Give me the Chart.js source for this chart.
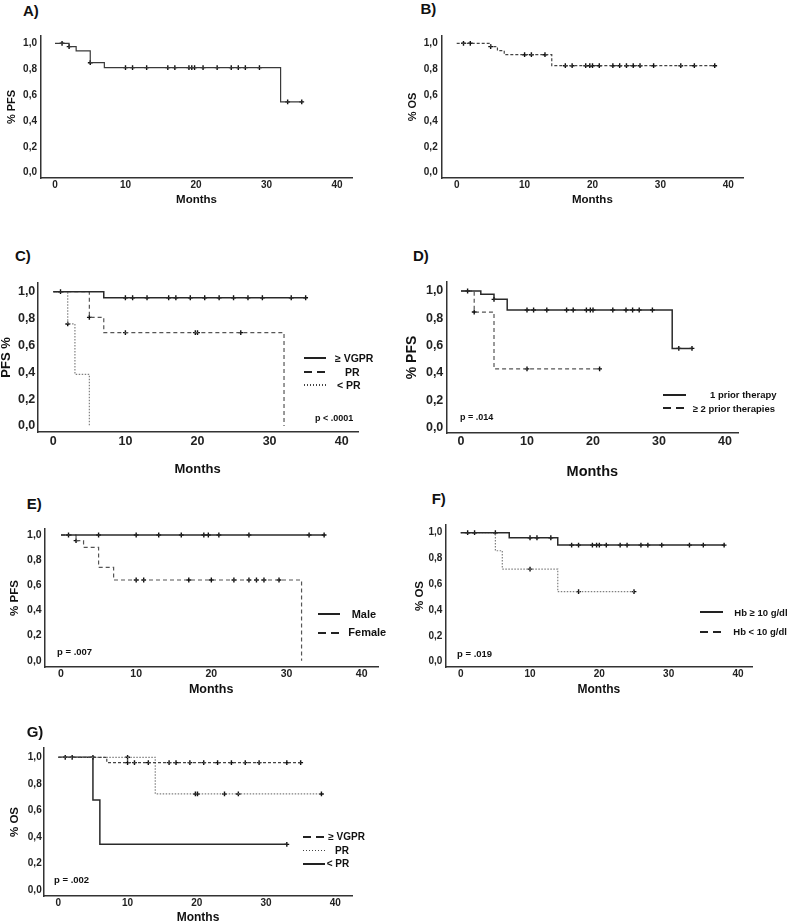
<!DOCTYPE html>
<html>
<head>
<meta charset="utf-8">
<script src="https://cdn.jsdelivr.net/npm/chart.js@4.4.1/dist/chart.umd.min.js"></script>
<style>
  body { margin: 0; width: 796px; height: 924px; position: relative; overflow: hidden; background: #fff;
         font-family: "Liberation Sans", Arial, sans-serif; font-weight: bold; color: #111; }
  canvas { position: absolute; }
  .t { position: absolute; white-space: nowrap; line-height: 1; }
  .k { position: absolute; }
</style>
</head>
<body>
<script>
// ---- shared ticks ----
const xTicks = [0, 10, 20, 30, 40];
const yTicks = [0, 0.2, 0.4, 0.6, 0.8, 1.0];
const yTickLabels = ['0,0', '0,2', '0,4', '0,6', '0,8', '1,0'];

// ---- A) PFS, all patients ----
const aTime = [0, 2, 3, 5, 7, 32, 35];
const aSurv = [1, 0.974, 0.942, 0.85, 0.812, 0.547, 0.547];
const aCens = [1, 2, 5, 10, 11, 13, 16, 17, 19, 19.4, 19.8, 21, 23, 25, 26, 27, 29, 33, 35];

// ---- B) OS, all patients ----
const bTime = [0, 5, 6, 7, 14, 38];
const bSurv = [1, 0.974, 0.943, 0.912, 0.827, 0.827];
const bCens = [1, 2, 5, 10, 11, 13, 16, 17, 19, 19.6, 20, 21, 23, 24, 25, 26, 27, 29, 33, 35, 38];

// ---- C) PFS by response ----
const cVgprTime = [0, 7, 35];
const cVgprSurv = [1, 0.955, 0.955];
const cVgprCens = [1, 10, 11, 13, 16, 17, 19, 21, 23, 25, 27, 29, 33, 35];
const cPrTime = [0, 5, 7, 32];
const cPrSurv = [1, 0.809, 0.695, 0];
const cPrCens = [5, 10, 19.7, 20, 26];
const cLtTime = [0, 2, 3, 5];
const cLtSurv = [1, 0.76, 0.385, 0];
const cLtCens = [2];

// ---- D) PFS by prior therapies ----
const dOneTime = [0, 3, 5, 7, 32, 35];
const dOneSurv = [1, 0.976, 0.939, 0.861, 0.58, 0.58];
const dOneCens = [1, 5, 10, 11, 13, 16, 17, 19, 19.6, 20, 23, 25, 26, 27, 29, 33, 35];
const dTwoTime = [0, 2, 5, 21];
const dTwoSurv = [1, 0.846, 0.43, 0.43];
const dTwoCens = [2, 10, 21];

// ---- E) PFS by sex ----
const eMaleTime = [0, 35];
const eMaleSurv = [1, 1];
const eMaleCens = [1, 5, 10, 13, 16, 19, 19.6, 21, 25, 33, 35];
const eFemTime = [0, 2, 3, 5, 7, 32];
const eFemSurv = [1, 0.955, 0.902, 0.743, 0.642, 0];
const eFemCens = [2, 10, 11, 17, 20, 23, 25, 26, 27, 29];

// ---- F) OS by haemoglobin ----
const fHiTime = [0, 7, 14, 38];
const fHiSurv = [1, 0.961, 0.904, 0.904];
const fHiCens = [1, 2, 5, 10, 11, 13, 16, 17, 19, 19.6, 20, 21, 23, 24, 26, 27, 29, 33, 35, 38];
const fLoTime = [0, 5, 6, 14, 25];
const fLoSurv = [1, 0.86, 0.718, 0.543, 0.543];
const fLoCens = [10, 17, 25];

// ---- G) OS by response ----
const gVgprTime = [0, 7, 35];
const gVgprSurv = [1, 0.96, 0.96];
const gVgprCens = [1, 2, 5, 10, 11, 13, 16, 17, 19, 21, 23, 25, 27, 29, 33, 35];
const gPrTime = [0, 14, 38];
const gPrSurv = [1, 0.724, 0.724];
const gPrCens = [10, 19.8, 20.1, 24, 26, 38];
const gLtTime = [0, 5, 6, 33];
const gLtSurv = [1, 0.678, 0.344, 0.344];
const gLtCens = [33];

// line styles
const SOLID = { color: '#2a2a2a', width: 1.5, dash: [] };
const SOLID_THIN = { color: '#3a3a3a', width: 1.2, dash: [] };
const DASH = { color: '#555', width: 1.2, dash: [4, 3] };
const FINE_DASH = { color: '#444', width: 1.2, dash: [3, 2] };
const DOT = { color: '#808080', width: 1.2, dash: [1.5, 1.5] };

function survAt(times, surv, t) {
  let v = surv[0];
  for (let i = 0; i < times.length; i++) if (times[i] <= t) v = surv[i];
  return v;
}

function addText(txt, left, cy, size) {
  const d = document.createElement('div');
  d.className = 't';
  d.textContent = txt;
  d.style.left = left + 'px';
  d.style.top = (cy - size / 2) + 'px';
  d.style.fontSize = size + 'px';
  document.body.appendChild(d);
}

function addKey(x1, x2, cy, kind) {
  const d = document.createElement('div');
  d.className = 'k';
  const h = kind === 'dot' ? 1.5 : 2;
  d.style.left = x1 + 'px';
  d.style.width = (x2 - x1) + 'px';
  d.style.top = (cy - h / 2) + 'px';
  d.style.height = h + 'px';
  if (kind === 'solid') d.style.background = '#222';
  else if (kind === 'dash') d.style.background = 'repeating-linear-gradient(to right,#222 0 8px,transparent 8px 13px)';
  else d.style.background = 'repeating-linear-gradient(to right,#444 0 1.5px,transparent 1.5px 3px)';
  document.body.appendChild(d);
}

function makePanel(p) {
  const a = p.area;
  const top = a.t - 12;
  const bottom = p.monthsY + p.xTitleSize / 2 + 2;
  const cv = document.createElement('canvas');
  cv.width = Math.round(a.r + 10 - p.cl);
  cv.height = Math.round(bottom - top);
  cv.style.left = p.cl + 'px';
  cv.style.top = top + 'px';
  document.body.appendChild(cv);

  const xPer = (p.x40 - p.x0) / 40;
  const yPer = p.y0 - p.y1;
  const yw = a.l - p.cl;
  const xh = cv.height - (a.b - top);

  const datasets = [];
  p.curves.forEach(c => {
    datasets.push({
      data: c.time.map((t, i) => ({ x: t, y: c.surv[i] })),
      stepped: true, fill: false, pointRadius: 0,
      borderColor: c.style.color, borderWidth: c.style.width, borderDash: c.style.dash
    });
  });
  p.curves.forEach(c => {
    datasets.push({
      data: c.cens.map(t => ({ x: t, y: survAt(c.time, c.surv, t) })),
      showLine: false, pointStyle: 'cross', pointRadius: 2.4, pointBorderWidth: 1.4,
      pointBorderColor: '#111', borderColor: '#111'
    });
  });

  const tickFont = { family: '"Liberation Sans", Arial, sans-serif', weight: 'bold', size: p.tickSize };
  new Chart(cv, {
    type: 'line',
    data: { datasets },
    options: {
      responsive: false, animation: false,
      layout: { padding: { left: 0, top: 12, right: 10, bottom: 0 } },
      plugins: { legend: { display: false }, tooltip: { enabled: false } },
      scales: {
        x: {
          type: 'linear',
          min: (a.l - p.x0) / xPer, max: (a.r - p.x0) / xPer,
          afterBuildTicks: s => { s.ticks = xTicks.map(v => ({ value: v })); },
          afterFit: s => { s.height = xh; },
          grid: { display: false, drawTicks: false },
          border: { display: true, color: '#333', width: 1.5 },
          ticks: { color: '#222', font: tickFont, padding: p.xTickCy - a.b - 0.6 * p.tickSize, maxRotation: 0 },
          title: { display: true, text: 'Months', color: '#111',
                   font: { family: tickFont.family, weight: 'bold', size: p.xTitleSize, lineHeight: 1 },
                   padding: { top: 0, bottom: 2 } }
        },
        y: {
          type: 'linear',
          min: (p.y0 - a.b) / yPer, max: (p.y0 - a.t) / yPer,
          afterBuildTicks: s => { s.ticks = yTicks.map(v => ({ value: v })); },
          afterFit: s => { s.width = yw; },
          grid: { display: false, drawTicks: false },
          border: { display: true, color: '#333', width: 1.5 },
          ticks: { color: '#222', font: tickFont, padding: p.yTickPad, callback: (v, i) => yTickLabels[i] },
          title: { display: true, text: p.yTitle, color: '#111',
                   font: { family: tickFont.family, weight: 'bold', size: p.yTitleSize, lineHeight: 1 },
                   padding: { top: Math.max(0, p.yTitleX - p.cl - p.yTitleSize / 2), bottom: 0 } }
        }
      }
    }
  });
}

// ---- panels ----
makePanel({ cl: 0, area: { l: 41, r: 352, t: 36, b: 178 }, x0: 55, x40: 337, y0: 172.7, y1: 43.3,
  tickSize: 10, yTickPad: 4, xTickCy: 185, yTitle: '% PFS', yTitleSize: 11, yTitleX: 12.3,
  xTitleSize: 11.5, monthsY: 200.7,
  curves: [{ time: aTime, surv: aSurv, cens: aCens, style: SOLID_THIN }] });

makePanel({ cl: 400, area: { l: 441.7, r: 743, t: 36, b: 178 }, x0: 456.7, x40: 728.3, y0: 172.7, y1: 43.3,
  tickSize: 10, yTickPad: 4, xTickCy: 185, yTitle: '% OS', yTitleSize: 11, yTitleX: 413,
  xTitleSize: 11.5, monthsY: 200.7,
  curves: [{ time: bTime, surv: bSurv, cens: bCens, style: FINE_DASH }] });

makePanel({ cl: 0, area: { l: 37.3, r: 358, t: 283, b: 432 }, x0: 53.3, x40: 341.7, y0: 426, y1: 291.7,
  tickSize: 12.5, yTickPad: 2, xTickCy: 441.7, yTitle: 'PFS %', yTitleSize: 13, yTitleX: 6.7,
  xTitleSize: 13, monthsY: 469,
  curves: [
    { time: cVgprTime, surv: cVgprSurv, cens: cVgprCens, style: SOLID },
    { time: cPrTime, surv: cPrSurv, cens: cPrCens, style: DASH },
    { time: cLtTime, surv: cLtSurv, cens: cLtCens, style: DOT }] });

makePanel({ cl: 400, area: { l: 446.7, r: 738, t: 282, b: 433 }, x0: 461, x40: 725, y0: 427.7, y1: 291,
  tickSize: 12.5, yTickPad: 3.4, xTickCy: 442, yTitle: '% PFS', yTitleSize: 14, yTitleX: 411.7,
  xTitleSize: 14.5, monthsY: 471.5,
  curves: [
    { time: dOneTime, surv: dOneSurv, cens: dOneCens, style: SOLID },
    { time: dTwoTime, surv: dTwoSurv, cens: dTwoCens, style: DASH }] });

makePanel({ cl: 0, area: { l: 44.3, r: 378, t: 529, b: 667 }, x0: 61, x40: 361.7, y0: 660.7, y1: 535,
  tickSize: 10.5, yTickPad: 2.6, xTickCy: 674, yTitle: '% PFS', yTitleSize: 11.5, yTitleX: 15,
  xTitleSize: 12.5, monthsY: 690,
  curves: [
    { time: eMaleTime, surv: eMaleSurv, cens: eMaleCens, style: SOLID },
    { time: eFemTime, surv: eFemSurv, cens: eFemCens, style: DASH }] });

makePanel({ cl: 400, area: { l: 445.7, r: 751.7, t: 525, b: 667 }, x0: 460.7, x40: 737.7, y0: 661.7, y1: 532.7,
  tickSize: 10, yTickPad: 3.4, xTickCy: 674, yTitle: '% OS', yTitleSize: 11.5, yTitleX: 420,
  xTitleSize: 12, monthsY: 690,
  curves: [
    { time: fHiTime, surv: fHiSurv, cens: fHiCens, style: SOLID },
    { time: fLoTime, surv: fLoSurv, cens: fLoCens, style: DOT }] });

makePanel({ cl: 0, area: { l: 44, r: 351.7, t: 748, b: 896 }, x0: 58.3, x40: 335, y0: 890, y1: 757.3,
  tickSize: 10, yTickPad: 2.3, xTickCy: 903, yTitle: '% OS', yTitleSize: 11.5, yTitleX: 15,
  xTitleSize: 12, monthsY: 918,
  curves: [
    { time: gVgprTime, surv: gVgprSurv, cens: gVgprCens, style: FINE_DASH },
    { time: gPrTime, surv: gPrSurv, cens: gPrCens, style: DOT },
    { time: gLtTime, surv: gLtSurv, cens: gLtCens, style: SOLID }] });

// ---- panel letters ----
addText('A)', 23, 10, 15);
addText('B)', 420.5, 8.5, 15);
addText('C)', 15, 255, 15);
addText('D)', 413, 255, 15);
addText('E)', 26.7, 503.3, 15);
addText('F)', 431.7, 498.3, 15);
addText('G)', 26.7, 731.7, 15);

// ---- legends & p values ----
addKey(304, 326, 358, 'solid'); addText('≥ VGPR', 335, 358, 10.5);
addKey(304, 326, 372, 'dash');  addText('PR', 345, 372, 10.5);
addKey(304, 326, 385, 'dot');   addText('< PR', 337, 385, 10.5);
addText('p < .0001', 315, 418.3, 9);

addKey(663.3, 686, 395, 'solid'); addText('1 prior therapy', 710, 395, 9.5);
addKey(663.3, 686, 408.3, 'dash'); addText('≥ 2 prior therapies', 692.7, 408.3, 9.5);
addText('p = .014', 460, 417.3, 9);

addKey(318, 340, 614.3, 'solid'); addText('Male', 351.7, 614.3, 11);
addKey(318, 340, 632.7, 'dash');  addText('Female', 348.3, 632.7, 11);
addText('p = .007', 57, 651.7, 9.5);

addKey(700, 722.7, 612.3, 'solid'); addText('Hb ≥ 10 g/dl', 734.3, 612.3, 9.5);
addKey(700, 722.7, 631.7, 'dash');  addText('Hb < 10 g/dl', 733.3, 631.7, 9.5);
addText('p = .019', 457, 653.3, 9.5);

addKey(303, 325, 836.7, 'dash');  addText('≥ VGPR', 328.3, 836.7, 10);
addKey(303, 325, 850.7, 'dot');   addText('PR', 335, 850.7, 10);
addKey(303, 325, 864, 'solid');   addText('< PR', 326.7, 864, 10);
addText('p = .002', 54, 880, 9.5);
</script>
</body>
</html>
